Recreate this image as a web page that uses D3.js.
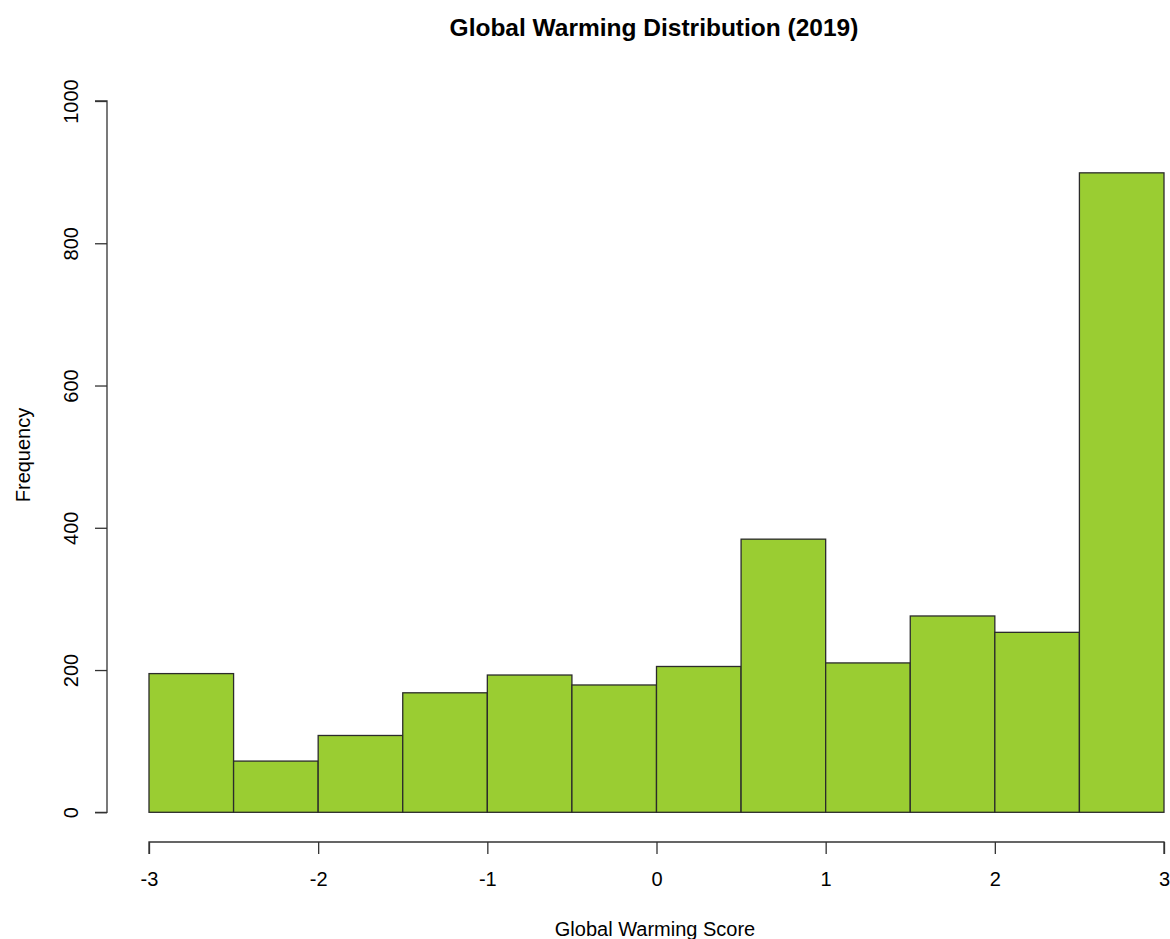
<!DOCTYPE html>
<html>
<head>
<meta charset="utf-8">
<script src="https://cdn.jsdelivr.net/npm/d3@7"></script>
<style>
  html, body { margin: 0; padding: 0; background: #ffffff; }
  svg { display: block; }
  text { font-family: "Liberation Sans", Arial, sans-serif; fill: #000; }
</style>
</head>
<body>
<svg id="chart" width="1170" height="939"></svg>
<script>
// Histogram bin edges (Global Warming Score) and counts per bin
const binEdges = [-3, -2.5, -2, -1.5, -1, -0.5, 0, 0.5, 1, 1.5, 2, 2.5, 3];
const counts = [195, 72, 108, 168, 193, 179, 205, 384, 210, 276, 253, 899];
const xTicks = [-3, -2, -1, 0, 1, 2, 3];
const yTicks = [0, 200, 400, 600, 800, 1000];

const titleText = "Global Warming Distribution (2019)";
const xLabel = "Global Warming Score";
const yLabel = "Frequency";

const svg = d3.select("#chart");

const x = d3.scaleLinear().domain([-3, 3]).range([149, 1164]);
const y = d3.scaleLinear().domain([0, 1000]).range([812.3, 101]);

const bins = counts.map((c, i) => ({ x0: binEdges[i], x1: binEdges[i + 1], n: c }));

// bars
svg.append("g")
  .selectAll("rect")
  .data(bins)
  .join("rect")
  .attr("x", d => x(d.x0))
  .attr("y", d => y(d.n))
  .attr("width", d => x(d.x1) - x(d.x0))
  .attr("height", d => y(0) - y(d.n))
  .attr("fill", "#9ACD32")
  .attr("stroke", "#2b2b2b")
  .attr("stroke-width", 1.3);

// x axis, detached below the plot
const xAxis = svg.append("g")
  .attr("transform", "translate(0,842)")
  .call(d3.axisBottom(x).tickValues(xTicks).tickSize(12).tickPadding(0).tickFormat(d3.format("d")));
xAxis.select(".domain").attr("d", `M${x(-3)},12V0H${x(3)}V12`).attr("stroke", "#333").attr("stroke-width", 1.3);
xAxis.selectAll(".tick line").attr("stroke", "#333").attr("stroke-width", 1.3);
xAxis.selectAll(".tick text")
  .attr("font-size", 20)
  .attr("font-family", "Liberation Sans, Arial, sans-serif")
  .attr("fill", "#000")
  .attr("y", 44)
  .attr("dy", null)
  .text(d => d < 0 ? "-" + Math.abs(d) : d);

// y axis, detached left of the plot
const yAxis = svg.append("g")
  .attr("transform", "translate(107,0)")
  .call(d3.axisLeft(y).tickValues(yTicks).tickSize(12).tickPadding(0).tickFormat(d3.format("d")));
yAxis.select(".domain").attr("d", `M-12,${y(0)}H0V${y(1000)}H-12`).attr("stroke", "#333").attr("stroke-width", 1.3);
yAxis.selectAll(".tick line").attr("stroke", "#333").attr("stroke-width", 1.3);
yAxis.selectAll(".tick text")
  .attr("font-size", 20)
  .attr("font-family", "Liberation Sans, Arial, sans-serif")
  .attr("fill", "#000")
  .attr("text-anchor", "middle")
  .attr("x", null)
  .attr("transform", "translate(-36,0) rotate(-90)")
  .attr("dy", "0.35em");

// title and axis labels
svg.append("text")
  .attr("x", 654).attr("y", 36)
  .attr("text-anchor", "middle")
  .attr("font-size", 24.5)
  .attr("font-weight", "bold")
  .text(titleText);

svg.append("text")
  .attr("x", 655).attr("y", 936)
  .attr("text-anchor", "middle")
  .attr("font-size", 20)
  .text(xLabel);

svg.append("text")
  .attr("transform", "translate(30,455) rotate(-90)")
  .attr("text-anchor", "middle")
  .attr("font-size", 20)
  .text(yLabel);
</script>
</body>
</html>
